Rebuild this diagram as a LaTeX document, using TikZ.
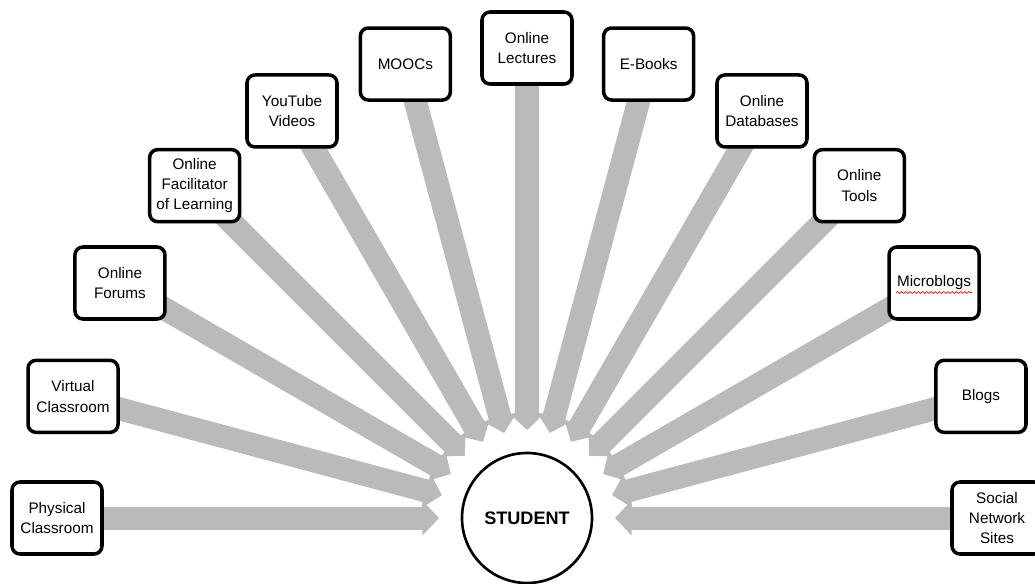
\documentclass[tikz,border=0pt]{standalone}
\usepackage{fontspec}
\setmainfont{Liberation Sans}
\usetikzlibrary{arrows.meta,shadows,decorations.pathmorphing}
\definecolor{arrgray}{RGB}{186,186,186}
\pgfdeclarelayer{bg}
\pgfsetlayers{bg,main}
\begin{document}
\begin{tikzpicture}[
  srcbox/.style={draw=black, line width=2pt, rounded corners=0.16cm, fill=white,
    minimum width=1.8cm, minimum height=1.44cm, inner sep=1pt, align=center,
    font=\fontsize{8.7}{11.6}\selectfont,
    drop shadow={opacity=0.3, shadow xshift=0.7pt, shadow yshift=-1pt}},
  flow/.style={draw=arrgray, fill=arrgray, line width=0.46cm,
    -{Triangle[width=0.68cm,length=0.33cm]}},
  hub/.style={circle, draw=black, line width=1.5pt, minimum size=2.6cm, inner sep=0pt,
    fill=white, font=\bfseries\fontsize{10.3}{12}\selectfont}
]
\useasboundingbox (-10.54,-1.30) rectangle (10.16,10.36);
\node[hub] (s) at (0,0) {STUDENT};
\node[srcbox] (b1) at (180:9.4) {Physical\\Classroom};
\node[srcbox] (b2) at (165:9.4) {Virtual\\Classroom};
\node[srcbox] (b3) at (150:9.4) {Online\\Forums};
\node[srcbox] (b4) at (135:9.4) {Online\\Facilitator\\of Learning};
\node[srcbox] (b5) at (120:9.4) {YouTube\\Videos};
\node[srcbox] (b6) at (105:9.4) {MOOCs};
\node[srcbox] (b7) at (90:9.4) {Online\\Lectures};
\node[srcbox] (b8) at (75:9.4) {E-Books};
\node[srcbox] (b9) at (60:9.4) {Online\\Databases};
\node[srcbox] (b10) at (45:9.4) {Online\\Tools};
\node[srcbox] (b11) at (30:9.4) {Microblogs};
\node[srcbox] (b12) at (15:9.4) {Blogs};
\node[srcbox] (b13) at (0:9.4) {Social\\Network\\Sites};
\draw[red, line width=0.4pt, decorate, decoration={snake, amplitude=0.5pt, segment length=2.4pt}]
  ([xshift=-0.76cm,yshift=-0.19cm]b11.center) -- ([xshift=0.76cm,yshift=-0.19cm]b11.center);
\begin{pgfonlayer}{bg}
\foreach \i/\a in {1/180,2/165,3/150,4/135,5/120,6/105,7/90,8/75,9/60,10/45,11/30,12/15,13/0}{
  \coordinate (t\i) at (\a:1.76);
  \draw[flow] (b\i.center) -- (t\i);
}
\end{pgfonlayer}
\end{tikzpicture}
\end{document}
